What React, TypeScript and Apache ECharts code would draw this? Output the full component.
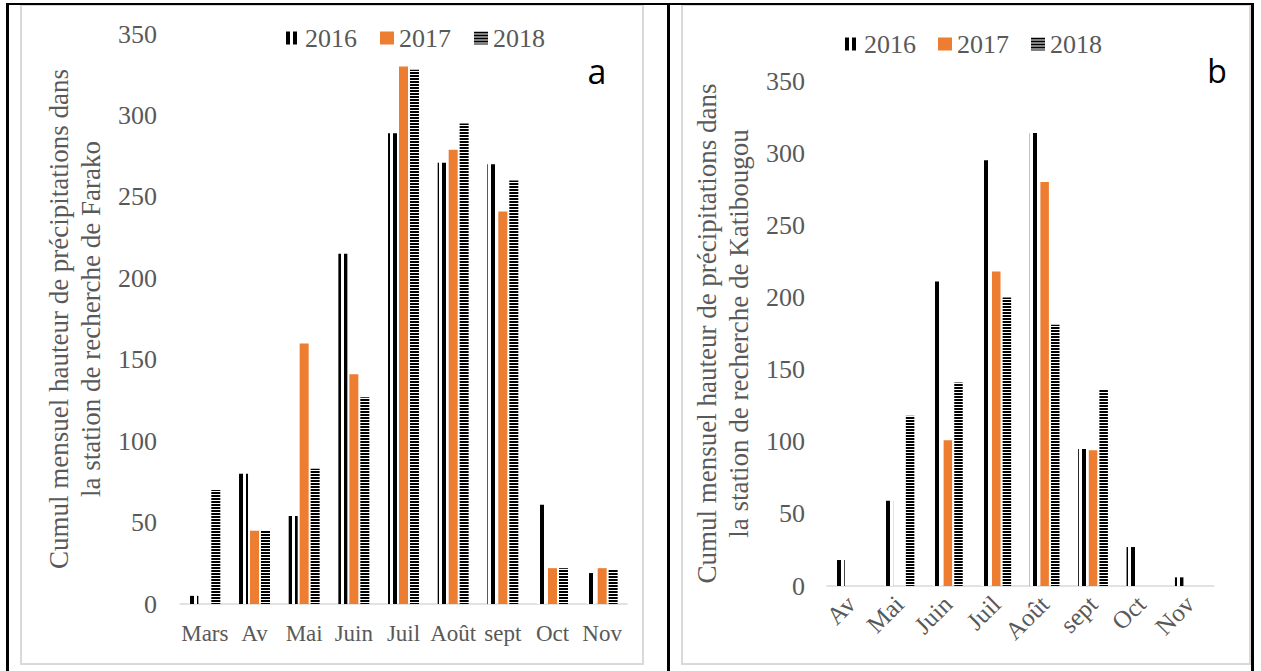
import React, { useEffect, useRef } from 'react';
import * as echarts from 'echarts';

// ---- Data ----
const years = ['2016', '2017', '2018'];

const monthsFarako = ['Mars', 'Av', 'Mai', 'Juin', 'Juil', 'Août', 'sept', 'Oct', 'Nov'];
const farako2016 = [5, 80, 54, 215, 289, 271, 270, 61, 19];
const farako2017 = [0, 45, 160, 141, 330, 279, 241, 22, 22];
const farako2018 = [70, 45, 83, 127, 328, 295, 260, 22, 21];

const monthsKati = ['Av', 'Mai', 'Juin', 'Juil', 'Août', 'sept', 'Oct', 'Nov'];
const kati2016 = [18, 59, 211, 295, 314, 95, 27, 6];
const kati2017 = [0, 0, 101, 218, 280, 94, 0, 0];
const kati2018 = [0, 118, 141, 200, 181, 136, 0, 0];

const yTicks = { min: 0, max: 350, interval: 50 };

const titleFarako = 'Cumul mensuel hauteur de précipitations dans\nla station de recherche de Farako';
const titleKati = 'Cumul mensuel hauteur de précipitations dans\nla station de recherche de Katibougou';

// ---- Styles ----
const FONT = '"Liberation Serif", "Times New Roman", serif';
const GRAY = '#595959';
const ORANGE = '#ED7D31';

const decal2016 = {
  symbol: 'rect',
  symbolSize: 1,
  color: '#000000',
  dashArrayX: [4, 3],
  dashArrayY: [1, 0],
  rotation: 0,
};
const decal2018 = {
  symbol: 'rect',
  symbolSize: 1,
  color: '#000000',
  dashArrayX: [1, 0],
  dashArrayY: [2, 1],
  rotation: 0,
};

function buildOption(cfg: any) {
  return {
    animation: false,
    textStyle: { fontFamily: FONT },
    legend: {
      data: years,
      left: cfg.legendLeft,
      top: cfg.legendTop,
      icon: 'rect',
      itemWidth: 14,
      itemHeight: 13,
      itemGap: cfg.legendGap,
      textStyle: { fontSize: 26, lineHeight: 26, color: GRAY, fontFamily: FONT },
    },
    grid: cfg.grid,
    xAxis: {
      type: 'category',
      data: cfg.months,
      axisLine: { lineStyle: { color: '#d9d9d9', width: 1.5 } },
      axisTick: { show: false },
      axisLabel: {
        interval: 0,
        fontSize: cfg.xFont,
        color: GRAY,
        fontFamily: FONT,
        margin: cfg.xMargin,
        rotate: cfg.xRotate,
      },
    },
    yAxis: {
      type: 'value',
      min: yTicks.min,
      max: yTicks.max,
      interval: yTicks.interval,
      splitLine: { show: false },
      axisLine: { show: false },
      axisTick: { show: false },
      axisLabel: { fontSize: 26, color: GRAY, fontFamily: FONT, margin: cfg.yMargin },
      name: cfg.title,
      nameLocation: 'middle',
      nameRotate: 90,
      nameGap: cfg.nameGap,
      nameTextStyle: { fontSize: 27, lineHeight: 32, color: GRAY, fontFamily: FONT },
    },
    series: [
      { name: '2016', type: 'bar', data: cfg.d2016, barWidth: cfg.barWidth, barGap: cfg.barGap, itemStyle: { color: '#ffffff', decal: decal2016 } },
      { name: '2017', type: 'bar', data: cfg.d2017, barWidth: cfg.barWidth, barGap: cfg.barGap, itemStyle: { color: ORANGE } },
      { name: '2018', type: 'bar', data: cfg.d2018, barWidth: cfg.barWidth, barGap: cfg.barGap, itemStyle: { color: '#ffffff', decal: decal2018 } },
    ],
    graphic: [
      {
        type: 'text',
        x: cfg.tagX,
        y: cfg.tagY,
        style: {
          text: cfg.tag,
          font: cfg.tagFont,
          fill: '#000000',
          align: 'center',
          verticalAlign: 'middle',
        },
      },
    ],
  };
}

const optionA = buildOption({
  months: monthsFarako,
  d2016: farako2016,
  d2017: farako2017,
  d2018: farako2018,
  title: titleFarako,
  grid: { left: 158, right: 15, top: 28, bottom: 59 },
  legendLeft: 259,
  legendTop: 14,
  legendGap: 23,
  xFont: 23,
  xMargin: 18,
  xRotate: 0,
  yMargin: 23,
  nameGap: 66,
  barWidth: 9,
  barGap: '22%',
  tag: 'a',
  tagX: 575,
  tagY: 65,
  tagFont: '34px "Open Sans"',
});

const optionB = buildOption({
  months: monthsKati,
  d2016: kati2016,
  d2017: kati2017,
  d2018: kati2018,
  title: titleKati,
  grid: { left: 139, right: 35, top: 75, bottom: 77 },
  legendLeft: 157,
  legendTop: 20,
  legendGap: 22,
  xFont: 25,
  xMargin: 14,
  xRotate: 45,
  yMargin: 22,
  nameGap: 64,
  barWidth: 8.5,
  barGap: '25%',
  tag: 'b',
  tagX: 534,
  tagY: 64,
  tagFont: '32px "Open Sans"',
});

function Chart({ option, style }: { option: any; style: React.CSSProperties }) {
  const ref = useRef<HTMLDivElement>(null);
  useEffect(() => {
    if (!ref.current) return;
    const chart = echarts.init(ref.current, null, { renderer: 'svg' });
    chart.setOption(option);
    return () => chart.dispose();
  }, [option]);
  return <div ref={ref} style={style} />;
}

export default function App() {
  return (
    <div style={{ position: 'absolute', left: 0, top: 0, width: 1261, height: 671, background: '#ffffff', overflow: 'hidden' }}>
      <div style={{ position: 'absolute', left: 20, top: 4, width: 624, height: 661, border: '2px solid #d9d9d9', boxSizing: 'border-box' }} />
      <div style={{ position: 'absolute', left: 681, top: 4, width: 570, height: 661, border: '2px solid #d9d9d9', boxSizing: 'border-box' }} />
      <Chart option={optionA} style={{ position: 'absolute', left: 22, top: 6, width: 620, height: 657 }} />
      <Chart option={optionB} style={{ position: 'absolute', left: 683, top: 6, width: 566, height: 657 }} />
      <div style={{ position: 'absolute', left: 6, top: 3, width: 1248, height: 2, background: '#000' }} />
      <div style={{ position: 'absolute', left: 6, top: 3, width: 3, height: 668, background: '#000' }} />
      <div style={{ position: 'absolute', left: 667, top: 3, width: 3, height: 668, background: '#000' }} />
      <div style={{ position: 'absolute', left: 1251, top: 3, width: 3, height: 668, background: '#000' }} />
    </div>
  );
}
